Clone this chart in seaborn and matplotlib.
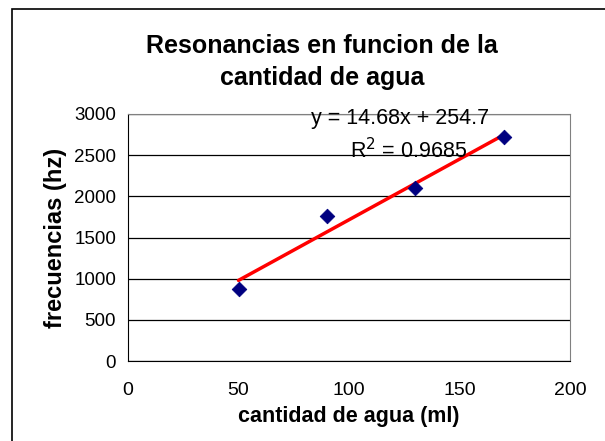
import numpy as np
import pandas as pd
import matplotlib
matplotlib.use("Agg")
import matplotlib.pyplot as plt
import seaborn as sns

# datos
agua_ml = [50, 90, 130, 170]
frecuencias_hz = [870, 1760, 2100, 2720]
ecuacion = "y = 14.68x + 254.7"
r2_texto = "R$^2$ = 0.9685"
x_ticks = [0, 50, 100, 150, 200]
y_ticks = [0, 500, 1000, 1500, 2000, 2500, 3000]

df = pd.DataFrame({"agua": agua_ml, "frec": frecuencias_hz})

sns.set_style("white")
plt.rcParams['font.family'] = ['Liberation Sans', 'DejaVu Sans']
plt.rcParams['text.color'] = 'black'
plt.rcParams['axes.labelcolor'] = 'black'

fig = plt.figure(figsize=(6.05, 4.41), dpi=100)
ax = fig.add_axes([128/605, 1 - 361/441, 442/605, 247/441])

# borde del area del grafico (recortado a derecha y abajo)
fig.patches.append(plt.Rectangle((12/605, -0.1), 1.2, 1 - 9/441 + 0.1,
                                 transform=fig.transFigure, fill=False,
                                 edgecolor='black', linewidth=1.2))

sns.regplot(data=df, x="agua", y="frec", ax=ax, ci=None, scatter=False,
            line_kws=dict(color='#ff0000', linewidth=2.5))
sns.scatterplot(data=df, x="agua", y="frec", ax=ax, marker='D', s=55,
                color='#000080', edgecolor='#000080', zorder=3)

ax.set_xlim(0, 200)
ax.set_ylim(0, 3000)
ax.set_xticks(x_ticks)
ax.set_yticks(y_ticks)
ax.yaxis.grid(True, color='black', linewidth=0.9)
ax.set_axisbelow(True)
for s in ['top', 'right']:
    ax.spines[s].set_color('#808080')
for s in ['left', 'bottom']:
    ax.spines[s].set_color('black')
ax.tick_params(axis='both', direction='out', length=5, width=1,
               labelsize=14, colors='black')
ax.tick_params(axis='y', labelsize=13.5)
ax.tick_params(axis='x', pad=10)

ax.set_xlabel("cantidad de agua (ml)", fontsize=15.5, fontweight='bold', labelpad=5)
ax.set_ylabel("frecuencias (hz)", fontsize=17, fontweight='bold', labelpad=5)

fig.text(322/605, 1 - 62/441, "Resonancias en funcion de la\ncantidad de agua",
         ha='center', va='center', fontsize=18, fontweight='bold',
         linespacing=1.45)

ax.text(123, 2950, ecuacion, ha='center', va='center', fontsize=15.5)
ax.text(127, 2560, r2_texto, ha='center', va='center', fontsize=15.5)

fig.savefig("out.png", dpi=100)
